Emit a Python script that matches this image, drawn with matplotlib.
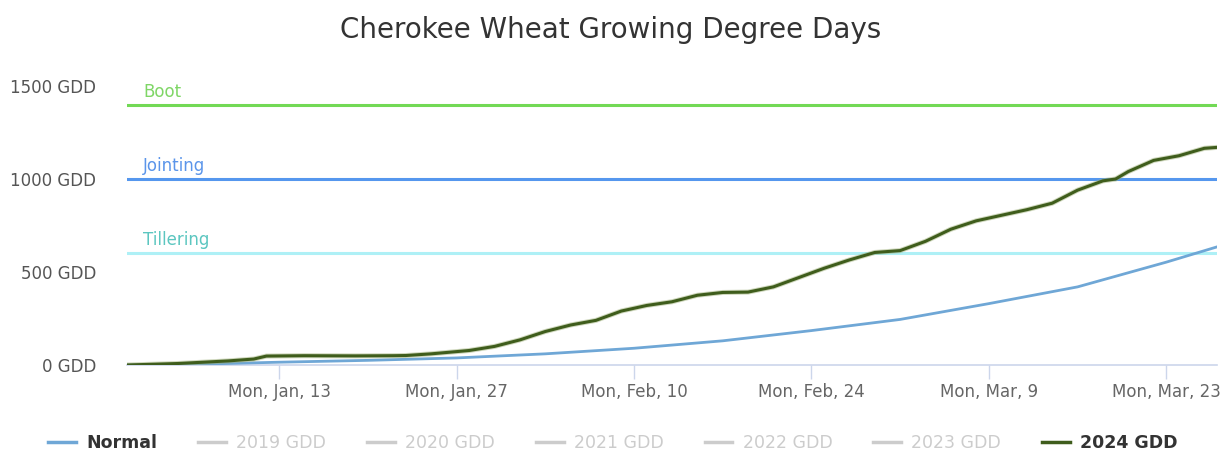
import matplotlib
matplotlib.use("Agg")
import matplotlib.pyplot as plt
from matplotlib.lines import Line2D
import pandas as pd

# ---------------- data ----------------
title = "Cherokee Wheat Growing Degree Days"
start_date = "2020-01-01"

gdd2024_days = [0, 4, 8, 10, 11, 14, 18, 21, 22, 24, 26, 27, 29, 31, 33, 35, 37, 39, 41, 43,
                45, 47, 49, 51, 53, 55, 57, 59, 61, 63, 65, 67, 69, 71, 73, 75, 77, 78, 79,
                81, 83, 85, 86]
gdd2024_vals = [0, 8, 22, 32, 48, 50, 49, 50, 51, 60, 72, 78, 100, 135, 180, 215, 240, 290, 320, 340,
                375, 390, 392, 420, 470, 520, 565, 605, 615, 665, 730, 775, 805, 835, 870, 940, 990, 1000, 1040,
                1100, 1125, 1165, 1170]

normal_days = [0, 6, 12, 19, 26, 33, 40, 47, 54, 61, 68, 75, 82, 86]
normal_vals = [0, 5, 15, 25, 38, 60, 90, 130, 185, 245, 330, 420, 553, 635]

stage_names = ["Boot", "Jointing", "Tillering"]
stage_values = [1400, 1000, 600]
stage_line_colors = ["#72d955", "#5597ee", "#aef0f6"]
stage_text_colors = ["#7fd666", "#5b95ea", "#5cc6c0"]

yticks = [0, 500, 1000, 1500]
ytick_labels = ["0 GDD", "500 GDD", "1000 GDD", "1500 GDD"]
xtick_dates = ["2020-01-13", "2020-01-27", "2020-02-10", "2020-02-24", "2020-03-09", "2020-03-23"]
xtick_labels = ["Mon, Jan, 13", "Mon, Jan, 27", "Mon, Feb, 10", "Mon, Feb, 24", "Mon, Mar, 9", "Mon, Mar, 23"]

legend_labels = ["Normal", "2019 GDD", "2020 GDD", "2021 GDD", "2022 GDD", "2023 GDD", "2024 GDD"]
legend_visible = [True, False, False, False, False, False, True]

# ---------------- plot ----------------
plt.rcParams['font.family'] = ['DejaVu Sans']
W, H = 1221, 453
fig = plt.figure(figsize=(W / 100, H / 100), dpi=100)
left, right, top, bottom = 127, 1217, 86, 365
ax = fig.add_axes([left / W, 1 - bottom / H, (right - left) / W, (bottom - top) / H])

t0 = pd.Timestamp(start_date)
d24 = [t0 + pd.Timedelta(days=d) for d in gdd2024_days]
dn = [t0 + pd.Timedelta(days=d) for d in normal_days]

normal_color = "#6fa7d6"
green = "#3f5d1c"

for name, val, lc, tc in zip(stage_names, stage_values, stage_line_colors, stage_text_colors):
    ax.axhline(val, color=lc, lw=2.2, zorder=1)
    ax.annotate(name, xy=(0, val), xycoords=('axes fraction', 'data'),
                xytext=(16, 4), textcoords='offset pixels', color=tc, fontsize=12, va='bottom')

ax.plot(dn, normal_vals, color=normal_color, lw=2, zorder=3)
ax.plot(d24, gdd2024_vals, color="#9fb07a", lw=3.6, zorder=4, alpha=0.5)
ax.plot(d24, gdd2024_vals, color=green, lw=2.2, zorder=5)

ax.set_xlim(t0, t0 + pd.Timedelta(days=86))
ax.set_ylim(0, 1500)
ax.set_yticks(yticks)
ax.set_yticklabels(ytick_labels, color="#555555", fontsize=12)
ax.set_xticks([pd.Timestamp(d) for d in xtick_dates])
ax.set_xticklabels(xtick_labels, color="#666666", fontsize=12)
ax.tick_params(axis='y', length=0, pad=22)
ax.tick_params(axis='x', length=10, color="#ccd6eb", width=1, pad=3)
for s in ['top', 'right', 'left']:
    ax.spines[s].set_visible(False)
ax.spines['bottom'].set_color("#ccd6eb")
ax.spines['bottom'].set_linewidth(1.2)
ax.spines['bottom'].set_zorder(0)

fig.text(0.5, 1 - 30 / H, title, ha='center', va='center', fontsize=20, color="#333333")

# legend
handle_colors = [normal_color, "#cccccc", "#cccccc", "#cccccc", "#cccccc", "#cccccc", green]
handles = [Line2D([0], [0], color=c, lw=2.5) for c in handle_colors]
leg = fig.legend(handles, legend_labels, loc='center', bbox_to_anchor=(0.502, 1 - 443 / H),
                 ncol=7, frameon=False, fontsize=12.5, handlelength=1.6, columnspacing=2.35,
                 handletextpad=0.6)
for txt, vis in zip(leg.get_texts(), legend_visible):
    if vis:
        txt.set_color("#333333")
        txt.set_fontweight('bold')
    else:
        txt.set_color("#cccccc")

fig.savefig("out.png", dpi=100)
